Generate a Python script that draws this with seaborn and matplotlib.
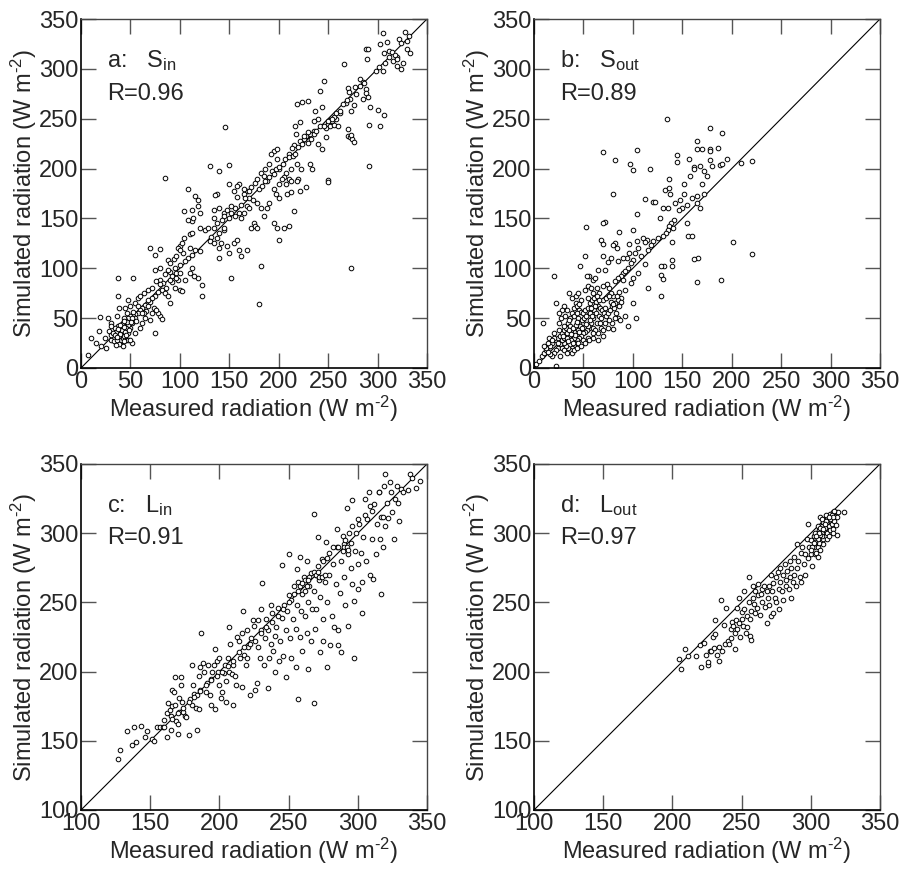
import matplotlib
matplotlib.use('Agg')
import matplotlib.pyplot as plt
import seaborn as sns
import numpy as np
import pandas as pd

# (measured, simulated) pairs, W m-2
sin_pts = [
    (328,337),(305,336),(322,330),(310,327),(302,325),(312,318),(306,316),(315,317),(320,312),(316,308),
    (326,306),(320,303),(301,302),(305,298),(324,300),(330,320),(333,316),(332,333),(330,328),(288,320),
    (290,320),(289,310),(266,305),(246,288),(242,278),(282,290),(277,282),(285,287),(288,280),(288,276),
    (290,272),(285,270),(270,281),(271,277),(272,270),(268,266),(276,264),(292,262),(300,259),(302,243),
    (306,254),(291,244),(273,258),(270,240),(270,233),(272,232),(274,230),(276,227),(273,234),(291,203),
    (273,100),(269,269),(262,256),(258,250),(256,252),(252,249),(254,248),(250,245),(248,241),(252,243),
    (256,244),(260,243),(248,232),(250,189),(250,187),(244,220),(240,225),(232,235),(236,238),(228,233),
    (226,230),(222,228),(217,235),(215,224),(213,221),(210,215),(216,243),(222,247),(218,265),(224,267),
    (230,268),(237,258),(240,250),(244,262),(236,248),(230,237),(234,200),(232,205),(228,182),(220,190),
    (222,178),(218,188),(223,200),(219,205),(210,190),(212,188),(207,196),(205,192),(200,200),(198,210),
    (195,218),(198,220),(192,215),(190,205),(186,200),(182,196),(185,193),(188,188),(180,180),(176,186),
    (172,182),(168,178),(165,175),(170,170),(174,168),(178,165),(182,160),(160,185),(158,183),(150,185),
    (155,178),(158,171),(162,163),(166,170),(160,155),(156,152),(150,150),(152,155),(145,155),(140,160),
    (138,175),(136,173),(135,158),(130,203),(146,242),(150,204),(140,198),(118,168),(118,162),(115,172),
    (108,180),(112,158),(120,155),(112,147),(110,134),(112,135),(104,157),(125,138),(128,140),(132,131),
    (130,127),(135,125),(138,130),(140,135),(140,120),(145,138),(142,125),(140,110),(148,122),(150,115),
    (155,125),(158,128),(160,118),(162,112),(168,118),(172,140),(175,145),(176,142),(178,140),(182,102),
    (180,64),(152,90),(135,150),(145,152),(195,145),(198,140),(200,128),(205,140),(210,142),(208,175),
    (212,177),(215,157),(200,170),(197,175),(190,165),(188,160),(185,152),(195,180),(203,190),(207,185),
    (200,185),(110,120),(115,118),(120,117),(112,113),(108,110),(105,107),(100,103),(103,115),(100,122),
    (98,120),(95,100),(90,96),(92,92),(96,95),(88,98),(85,94),(80,88),(83,85),(86,80),(82,78),(78,76),
    (75,72),(72,70),(70,66),(68,68),(65,63),(62,60),(60,58),(58,55),(55,54),(53,52),(50,52),(48,50),
    (45,48),(42,45),(40,40),(38,37),(36,35),(40,33),(42,35),(44,38),(38,30),(35,32),(32,30),(30,28),
    (33,27),(45,30),(46,28),(42,27),(48,35),(50,40),(52,45),(55,50),(40,28),(37,42),(34,40),(30,45),
    (36,52),(38,60),(37,72),(37,90),(53,90),(65,50),(62,45),(70,48),(75,35),(80,52),(78,55),(82,49),
    (60,40),(55,35),(52,25),(42,22),(38,24),(35,23),(25,20),(20,22),(15,25),(7,13),(10,30),(18,37),
    (19,51),(27,50),(30,42),(28,37),(24,30),(45,60),(48,68),(50,62),(55,65),(58,70),(60,72),(64,75),
    (68,78),(72,80),(76,87),(80,84),(85,75),(88,72),(90,65),(95,80),(100,78),(102,77),(92,86),(90,88),
    (98,88),(96,90),(70,120),(75,113),(80,119),(85,191),(88,108),(90,105),(75,98),(80,100),(94,109),
    (96,112),(100,118),(102,125),(104,130),(108,148),(113,150),(120,140),(122,83),(122,72),(118,90),
    (114,92),(110,95),(105,88),(100,95),(112,100),(66,57),(58,62),(68,62),(74,60),(76,58),(72,55),
    (64,55),(62,55),(56,47),(53,56),(47,55),(44,50),(48,43),(52,50),(42,30),(40,36),(44,32),(46,40),
    (38,32),(36,28),(35,36),(48,28),(44,27),(50,28),(41,44),(47,46),(30,33),(32,35),(156,160),(162,150),
    (165,155),(168,162),(170,160),(152,162),(148,158),(145,140),(143,148),(138,145),(135,140),(165,180),
    (170,178),(178,190),(183,183),(186,188),(190,192),(193,198),(195,195),(197,200),(200,202),(204,205),
    (206,210),(210,212),(214,213),(212,200),(216,215),(220,222),(224,225),(226,233),(230,226),(233,230),
    (236,235),(238,238),(242,243),(246,243),(250,248),(254,250),(258,256),(262,258),(265,265),(278,275),
    (282,283),(286,286),(298,298),(308,306),(312,312),(318,314),(320,310),(324,326),
    (39,34),(41,38),(43,41),(45,36),(37,39),(39,43),(43,47),(46,33),(49,38),(51,46),(34,33),(36,31),
]

sout_pts = [
    (135,250),(178,241),(190,236),(165,228),(70,217),(104,219),(165,220),(170,220),(178,220),(186,221),
    (178,218),(82,209),(97,205),(100,199),(117,200),(145,214),(145,207),(157,210),(162,202),(168,203),
    (178,209),(188,204),(195,210),(190,205),(175,193),(170,185),(162,200),(158,193),(152,185),(180,203),
    (172,198),(209,206),(221,208),(201,126),(221,114),(189,88),(165,86),(166,110),(162,109),(156,132),
    (160,132),(155,145),(140,126),(140,108),(140,102),(132,102),(128,102),(128,93),(130,89),(128,72),
    (115,80),(103,50),(100,65),(95,42),(92,52),(80,39),(80,175),(53,141),(72,146),(70,145),(112,169),
    (120,166),(122,166),(133,179),(137,190),(137,181),(138,175),(127,150),(130,160),(136,160),(143,165),
    (148,168),(152,175),(155,163),(160,170),(165,172),(172,174),(168,160),(165,165),(150,160),(147,158),
    (142,148),(139,145),(137,142),(141,140),(136,138),(134,135),(130,132),(125,130),(120,127),(118,123),
    (115,118),(114,128),(110,130),(112,126),(105,120),(102,115),(100,108),(98,105),(95,100),(90,95),
    (88,92),(85,90),(82,87),(90,88),(92,97),(94,110),(96,115),(84,120),(82,125),(78,110),(75,106),
    (72,98),(70,112),(65,98),(68,128),(70,124),(80,123),(86,136),(100,138),(104,154),(96,124),(85,107),
    (90,110),(104,127),(108,112),(112,104),(105,95),(100,90),(98,85),(92,78),(88,70),(85,68),(82,65),
    (80,72),(78,75),(76,80),(74,84),(70,82),(66,75),(64,80),(60,88),(56,92),(54,92),(62,90),(52,112),
    (47,102),(20,92),(22,65),(9,45),(2,4),(5,7),(8,12),(10,15),(12,18),(15,22),(18,25),(22,28),(24,30),
    (26,32),(28,35),(30,38),(32,40),(34,45),(36,50),(38,55),(40,60),(42,65),(44,62),(46,58),(48,56),
    (50,55),(52,58),(55,60),(57,65),(59,68),(61,70),(63,66),(65,62),(67,60),(69,58),(71,55),(73,52),
    (75,55),(77,58),(79,62),(81,60),(83,55),(85,50),(87,48),(60,50),(58,45),(56,40),(54,38),(52,36),
    (50,35),(48,32),(46,30),(44,28),(42,25),(40,22),(38,20),(36,18),(34,20),(32,22),(30,25),(28,28),
    (26,24),(24,20),(22,18),(20,15),(18,12),(16,14),(14,16),(12,20),(10,22),(15,30),(20,35),(25,38),
    (30,42),(35,48),(40,52),(45,50),(50,45),(55,42),(60,40),(65,35),(70,32),(65,28),(60,30),(55,30),
    (50,28),(45,25),(40,30),(35,32),(30,30),(28,20),(24,25),(22,2),(26,12),(30,18),(33,15),(38,15),
    (40,18),(44,20),(48,22),(52,25),(56,28),(62,38),(68,40),(72,45),(38,70),(35,75),(30,62),(28,58),
    (25,55),(33,58),(42,72),(45,75),(52,78),(55,82),(58,80),(48,68),(46,64),(44,55),(36,42),(38,38),
    (41,36),(43,40),(47,42),(49,48),(51,50),(53,52),(57,55),(59,52),(61,58),(63,55),(66,52),(68,50),
    (62,62),(70,68),(73,70),(76,72),(78,66),(80,64),(84,72),(86,76),(88,66),(86,62),(20,30),(18,28),
    (16,22),(14,25),(25,45),(27,50),(31,52),(33,35),(37,28),(39,25),(41,33),(45,38),(49,40),(53,44),
    (57,48),(60,35),(64,45),(67,45),(70,38),(75,40),(79,45),(82,50),(76,48),(72,60),(66,68),(64,72),
    (60,75),(58,60),(55,70),(33,30),(35,38),(37,34),(39,40),(42,43),(44,46),(46,36),(34,27),(29,32),
]

lin_pts = [
    (127,137),(128,143),(133,157),(137,147),(138,160),(140,149),(143,161),(146,153),(148,157),(151,151),
    (153,150),(155,160),(157,160),(159,160),(160,165),(162,153),(162,170),(163,177),(164,172),(165,168),
    (165,158),(166,175),(166,187),(167,185),(168,196),(168,176),(169,164),(170,162),(170,155),(171,171),
    (171,181),(172,190),(172,196),(173,178),(174,171),(175,168),(176,167),(178,154),(179,180),(180,176),
    (180,205),(181,190),(182,184),(183,174),(184,183),(184,158),(185,173),(185,197),(186,203),(186,187),
    (187,228),(188,206),(189,200),(190,185),(191,192),(192,205),(193,183),(194,176),(194,195),(195,200),
    (196,205),(197,173),(197,216),(198,208),(199,200),(200,210),(200,190),(201,181),(202,185),(203,199),
    (204,205),(205,178),(205,193),(206,210),(207,200),(207,232),(208,220),(209,198),(210,205),(210,176),
    (211,197),(212,190),(213,225),(214,222),(215,210),(216,228),(216,189),(217,244),(218,212),(219,205),
    (220,210),(220,230),(221,218),(222,183),(223,224),(224,237),(225,233),(226,187),(227,192),(228,218),
    (228,237),(229,210),(230,230),(230,245),(231,264),(232,205),(233,224),(234,238),(235,188),(235,230),
    (236,210),(237,248),(237,220),(238,242),(239,215),(240,226),(240,200),(241,232),(242,246),(243,208),
    (244,222),(245,239),(245,277),(246,211),(247,248),(248,196),(248,230),(249,244),(250,255),(250,285),
    (251,224),(252,252),(252,210),(253,238),(254,262),(255,203),(255,231),(256,248),(256,274),(257,265),
    (257,180),(258,225),(258,283),(259,244),(260,256),(260,215),(261,268),(262,240),(263,228),(263,280),
    (264,202),(264,250),(265,262),(266,222),(266,271),(267,245),(268,177),(268,258),(268,314),(269,231),
    (270,270),(270,245),(271,297),(272,266),(273,214),(273,254),(274,281),(275,238),(275,222),(276,265),
    (277,294),(278,203),(278,250),(279,286),(279,270),(280,219),(281,240),(282,278),(283,232),(284,263),
    (285,303),(285,290),(286,230),(286,219),(287,257),(288,214),(288,280),(289,298),(290,292),(290,268),
    (291,248),(292,318),(293,285),(293,233),(294,300),(295,275),(296,263),(296,324),(297,251),(297,210),
    (298,287),(299,300),(300,260),(300,278),(301,307),(302,286),(303,242),(303,265),(304,297),(305,313),
    (306,280),(307,310),(308,330),(309,270),(310,296),(310,316),(311,267),(312,321),(313,285),(314,307),
    (315,330),(316,296),(317,256),(317,312),(318,290),(319,334),(320,305),(320,343),(321,322),(322,311),
    (323,337),(324,330),(325,315),(326,296),(327,325),(328,334),(329,322),(330,309),(331,332),(333,330),
    (336,331),(338,343),(339,340),(342,333),(345,338),(305,325),(309,320),(315,330),(318,312),(300,310),
    (296,305),(290,290),(286,290),(282,290),(278,282),(275,280),(271,276),(268,272),(265,268),(262,266),
    (258,262),(254,256),(250,250),(246,245),(242,240),(238,236),(234,232),(230,228),(226,222),(222,220),
    (218,218),(214,214),(210,208),(206,204),(202,200),(198,197),(194,194),(190,190),(186,186),(182,182),
    (178,178),(174,174),(170,170),(166,166),(160,160),(292,290),(291,295),(293,288),(289,287),(295,293),
    (270,270),(272,268),(271,272),(274,268),(276,270),(263,262),(260,264),(262,258),(257,258),(264,266),
]

lout_pts = [
    (205,209),(206,202),(209,216),(211,211),(217,211),(220,219),(221,203),(223,221),(224,212),(226,205),
    (226,207),(227,215),(228,215),(229,225),(230,217),(231,227),(231,237),(232,212),(234,208),(234,218),
    (235,252),(236,215),(237,234),(238,220),(239,246),(240,222),(241,220),(242,224),(242,231),(243,236),
    (244,233),(245,216),(245,228),(246,237),(247,246),(247,231),(248,253),(248,235),(249,225),(250,238),
    (250,243),(251,233),(252,258),(252,245),(253,228),(254,232),(254,240),(255,250),(255,268),(256,226),
    (256,238),(257,244),(257,223),(258,253),(258,262),(259,249),(260,258),(260,242),(261,246),(262,255),
    (262,263),(263,241),(264,256),(265,260),(265,250),(266,262),(267,247),(268,258),(268,235),(269,253),
    (270,262),(270,248),(271,270),(271,240),(272,258),(273,264),(273,242),(274,253),(275,268),(275,250),
    (276,272),(277,260),(277,245),(278,275),(278,265),(279,258),(280,270),(280,252),(281,278),(282,266),
    (282,262),(283,273),(284,260),(285,268),(285,280),(286,275),(286,253),(287,265),(288,283),(288,270),
    (289,262),(290,292),(290,275),(291,280),(292,268),(293,286),(293,265),(294,290),(295,278),(296,285),
    (296,270),(297,296),(298,282),(298,307),(299,290),(300,285),(300,295),(301,276),(302,298),(302,290),
    (303,300),(303,285),(304,293),(305,305),(305,290),(306,297),(306,302),(307,312),(307,288),(308,300),
    (308,305),(309,296),(309,308),(310,302),(310,310),(311,298),(311,306),(312,312),(312,300),(313,305),
    (313,309),(314,314),(314,302),(315,311),(315,307),(316,315),(316,303),(317,313),(317,309),(318,315),
    (318,306),(319,312),(319,299),(320,315),(324,315),(304,286),(305,283),(312,296),(309,292),(313,298),
    (316,300),(314,310),(315,313),(311,313),(310,304),(308,310),(307,304),(306,293),(317,316),(316,312),
    (313,312),(312,308),(311,309),(310,307),(309,303),(308,298),(307,299),(306,300),(305,296),(304,298),
    (303,294),(302,293),(301,290),(300,288),
]

panel_names = ['a:   S$_\\mathrm{in}$', 'b:   S$_\\mathrm{out}$', 'c:   L$_\\mathrm{in}$', 'd:   L$_\\mathrm{out}$']
r_values = [0.96, 0.89, 0.91, 0.97]
axis_lims = [(0, 350), (0, 350), (100, 350), (100, 350)]
tick_step = 50

sns.set_style('ticks')
plt.rcParams['font.family'] = ['Liberation Sans', 'DejaVu Sans']
plt.rcParams['mathtext.fontset'] = 'custom'
plt.rcParams['mathtext.rm'] = 'Liberation Sans'
plt.rcParams['mathtext.it'] = 'Liberation Sans:italic'

fig = plt.figure(figsize=(9.06, 8.74), dpi=100)
positions = [
    [81/906, 506/874, 346/906, 349/874],
    [534/906, 506/874, 346/906, 349/874],
    [81/906, 64/874, 346/906, 346/874],
    [534/906, 64/874, 346/906, 346/874],
]

all_pts = [sin_pts, sout_pts, lin_pts, lout_pts]
for i in range(4):
    ax = fig.add_axes(positions[i])
    df = pd.DataFrame(all_pts[i], columns=['measured', 'simulated'])
    lo, hi = axis_lims[i]
    # 1:1 line
    ax.plot([lo, hi], [lo, hi], color='black', lw=0.8, zorder=1)
    sns.scatterplot(data=df, x='measured', y='simulated', ax=ax, s=11,
                    facecolor='white', edgecolor='black', linewidth=0.7, zorder=2)
    ax.set_xlim(lo, hi)
    ax.set_ylim(lo, hi)
    ticks = np.arange(lo, hi + 1, tick_step)
    ax.set_xticks(ticks)
    ax.set_yticks(ticks)
    ax.tick_params(direction='in', length=11, width=1.0, labelsize=17,
                   top=True, right=True, color='#555555', pad=2)
    for side in ['left', 'bottom']:
        ax.spines[side].set_color('black')
        ax.spines[side].set_linewidth(1.2)
    for side in ['top', 'right']:
        ax.spines[side].set_color('#444444')
        ax.spines[side].set_linewidth(1.0)
    ax.set_xlabel('Measured radiation (W m$^{\\text{-2}}$)', fontsize=17, labelpad=1)
    ax.set_ylabel('Simulated radiation (W m$^{\\text{-2}}$)', fontsize=17, labelpad=0)
    ax.text(0.075, 0.88, panel_names[i], transform=ax.transAxes, fontsize=17, va='center')
    ax.text(0.075, 0.785, 'R=%.2f' % r_values[i], transform=ax.transAxes, fontsize=17, va='center')

plt.savefig('out.png', dpi=100)
